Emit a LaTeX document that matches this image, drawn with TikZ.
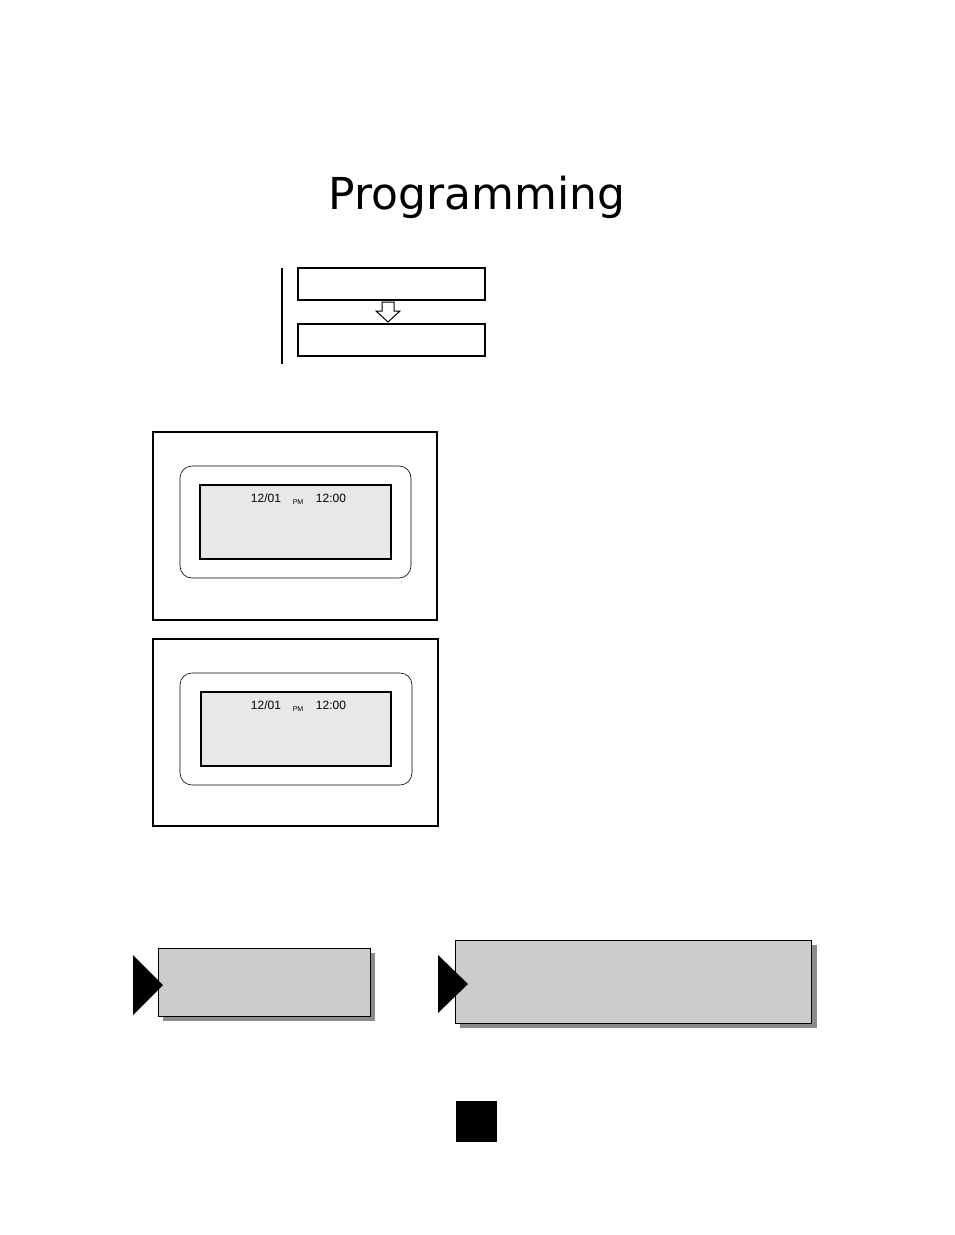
\documentclass[tikz,border=0pt]{standalone}
\usepackage{fontspec}
\setmainfont{Liberation Sans}
\newfontfamily\titlefont{DejaVu Sans}
\begin{document}
\begin{tikzpicture}[x=1pt,y=-1pt,
  frame/.style={draw=black,line width=1.2pt},
  lcd/.style={draw=black,line width=1.4pt,fill=black!9},
  lcdtxt/.style={inner sep=0pt,font=\fontsize{12}{12}\selectfont},
  gbox/.style={draw=black,line width=1pt,fill=black!20},
  shadow/.style={fill=black!45,draw=none}]
\useasboundingbox[fill=white] (0,0) rectangle (954,1235);
\node (title) at (477,197) {\titlefont\fontsize{44}{44}\selectfont Programming};
\draw[line width=1.2pt] (282,268) coordinate (vt) -- (282,364) coordinate (vb);
\node[frame,minimum width=187pt,minimum height=32pt,inner sep=0pt] (b1) at (391.5,284) {};
\node[frame,minimum width=187pt,minimum height=32pt,inner sep=0pt] (b2) at (391.5,340) {};
\draw[line width=1pt,fill=white] (382,302)--(394,302)--(394,311)--(400,311)--(388,322)--(376,311)--(382,311)--cycle;
% panel 1
\draw[frame] (153,432) rectangle (437,620);
\draw[line width=0.6pt,rounded corners=12pt] (180,466) rectangle (411,578);
\draw[lcd] (200,485) rectangle (391,559);
\node[lcdtxt] (d1) at (266,498) {12/01};
\node[lcdtxt,font=\fontsize{7}{7}\selectfont] (p1) at (298,502) {PM};
\node[lcdtxt] (t1) at (331,498) {12:00};
% panel 2
\draw[frame] (153,639) rectangle (438,826);
\draw[line width=0.6pt,rounded corners=12pt] (180,673) rectangle (412,785);
\draw[lcd] (201,692) rectangle (391,766);
\node[lcdtxt] (d2) at (266,705) {12/01};
\node[lcdtxt,font=\fontsize{7}{7}\selectfont] (p2) at (298,709) {PM};
\node[lcdtxt] (t2) at (331,705) {12:00};
% bottom boxes
\fill[shadow] (163,953) rectangle (375,1021);
\draw[gbox] (158,948) rectangle (370,1016);
\fill (133,955)--(163,985)--(133,1015)--cycle;
\fill[shadow] (460,945) rectangle (817,1028);
\draw[gbox] (455,940) rectangle (811,1023);
\fill (438,955)--(468,984)--(438,1013)--cycle;
\fill (456,1101) rectangle (497,1142);
\end{tikzpicture}
\end{document}
